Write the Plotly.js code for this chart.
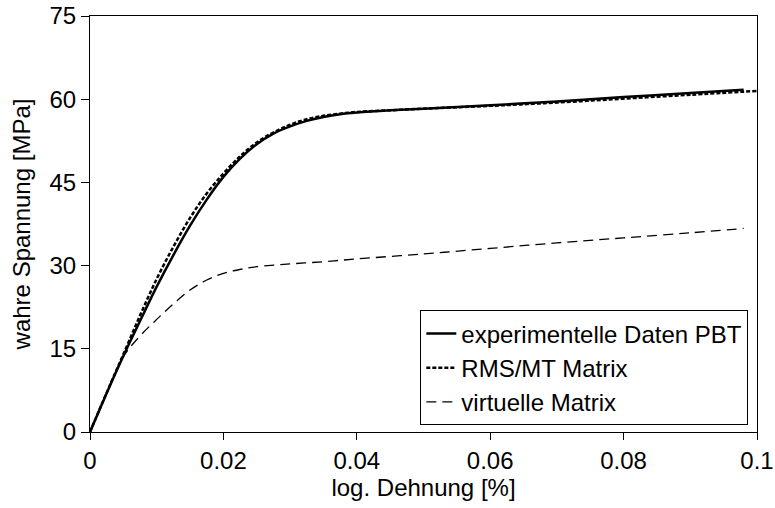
<!DOCTYPE html>
<html>
<head>
<meta charset="utf-8">
<script src="https://cdn.plot.ly/plotly-3.0.1.min.js"></script>
<style>html,body{margin:0;padding:0;background:#fff;}#chart{width:775px;height:508px;}</style>
</head>
<body>
<div id="chart"></div>
<script>
// Data
const expStrain = [0, 0.0025, 0.005, 0.0075, 0.01, 0.0125, 0.015, 0.0175, 0.02, 0.0225, 0.025, 0.0275, 0.03, 0.0325, 0.035, 0.0375, 0.04, 0.045, 0.05, 0.06, 0.07, 0.08, 0.09, 0.098];
const expStress = [0, 7.0, 13.7, 20.0, 26.2, 31.9, 37.2, 41.9, 46.0, 49.3, 51.9, 53.8, 55.1, 56.1, 56.8, 57.3, 57.6, 58.0, 58.3, 58.9, 59.6, 60.4, 61.1, 61.7];

const rmsStrain = [0, 0.0025, 0.005, 0.0075, 0.01, 0.0125, 0.015, 0.0175, 0.02, 0.0225, 0.025, 0.0275, 0.03, 0.0325, 0.035, 0.0375, 0.04, 0.045, 0.05, 0.06, 0.07, 0.08, 0.09, 0.1];
const rmsStress = [0, 7.1, 14.0, 21.0, 27.6, 33.4, 38.6, 43.0, 46.6, 49.7, 52.2, 54.0, 55.4, 56.4, 57.0, 57.4, 57.7, 58.0, 58.3, 58.8, 59.4, 60.1, 60.8, 61.5];

const virtStrain = [0, 0.0025, 0.005, 0.0075, 0.01, 0.0125, 0.015, 0.0175, 0.02, 0.0225, 0.025, 0.03, 0.035, 0.04, 0.05, 0.06, 0.07, 0.08, 0.09, 0.098];
const virtStress = [0, 7.0, 13.6, 17.3, 20.3, 23.1, 25.6, 27.4, 28.6, 29.3, 29.8, 30.3, 30.7, 31.2, 32.1, 33.1, 34.1, 35.0, 35.9, 36.7];

const seriesNames = ["experimentelle Daten PBT", "RMS/MT Matrix", "virtuelle Matrix"];
const xTickVals = [0, 0.02, 0.04, 0.06, 0.08, 0.1];
const yTickVals = [0, 15, 30, 45, 60, 75];

const font = "Arial, 'Liberation Sans', sans-serif";
const fs = 24;

const traces = [
  {x: expStrain, y: expStress, name: seriesNames[0], mode: "lines",
   line: {color: "#000", width: 2.5, dash: "solid", shape: "spline"}},
  {x: rmsStrain, y: rmsStress, name: seriesNames[1], mode: "lines",
   line: {color: "#000", width: 2.5, dash: "4px,2px", shape: "spline"}},
  {x: virtStrain, y: virtStress, name: seriesNames[2], mode: "lines",
   line: {color: "#000", width: 1.3, dash: "10px,6px", shape: "spline"}}
];

const layout = {
  width: 775, height: 508,
  margin: {l: 90, r: 18, t: 16, b: 76, pad: 0},
  paper_bgcolor: "#fff", plot_bgcolor: "#fff",
  font: {family: font, size: fs, color: "#000"},
  showlegend: true,
  legend: {
    x: 0.987, y: 0.016, xanchor: "right", yanchor: "bottom",
    bordercolor: "#000", borderwidth: 1, bgcolor: "#fff",
    font: {family: font, size: fs, color: "#000"},
    tracegroupgap: 0, itemwidth: 30
  },
  xaxis: {
    range: [0, 0.1], tickvals: xTickVals, ticktext: xTickVals.map(String),
    showgrid: false, zeroline: false,
    showline: true, linecolor: "#000", linewidth: 1, mirror: true,
    ticks: "outside", ticklen: 7, tickcolor: "#000", tickwidth: 1,
    tickfont: {family: font, size: fs, color: "#000"},
    title: {text: "log. Dehnung [%]", font: {family: font, size: fs, color: "#000"}, standoff: 0}
  },
  yaxis: {
    range: [0, 75], tickvals: yTickVals, ticktext: yTickVals.map(String),
    showgrid: false, zeroline: false,
    showline: true, linecolor: "#000", linewidth: 1, mirror: true,
    ticks: "outside", ticklen: 8, tickcolor: "#000", tickwidth: 1,
    tickfont: {family: font, size: fs, color: "#000"},
    title: {text: "wahre Spannung [MPa]", font: {family: font, size: fs, color: "#000"}, standoff: 12}
  }
};

Plotly.newPlot("chart", traces, layout, {displayModeBar: false, staticPlot: true});
</script>
</body>
</html>
